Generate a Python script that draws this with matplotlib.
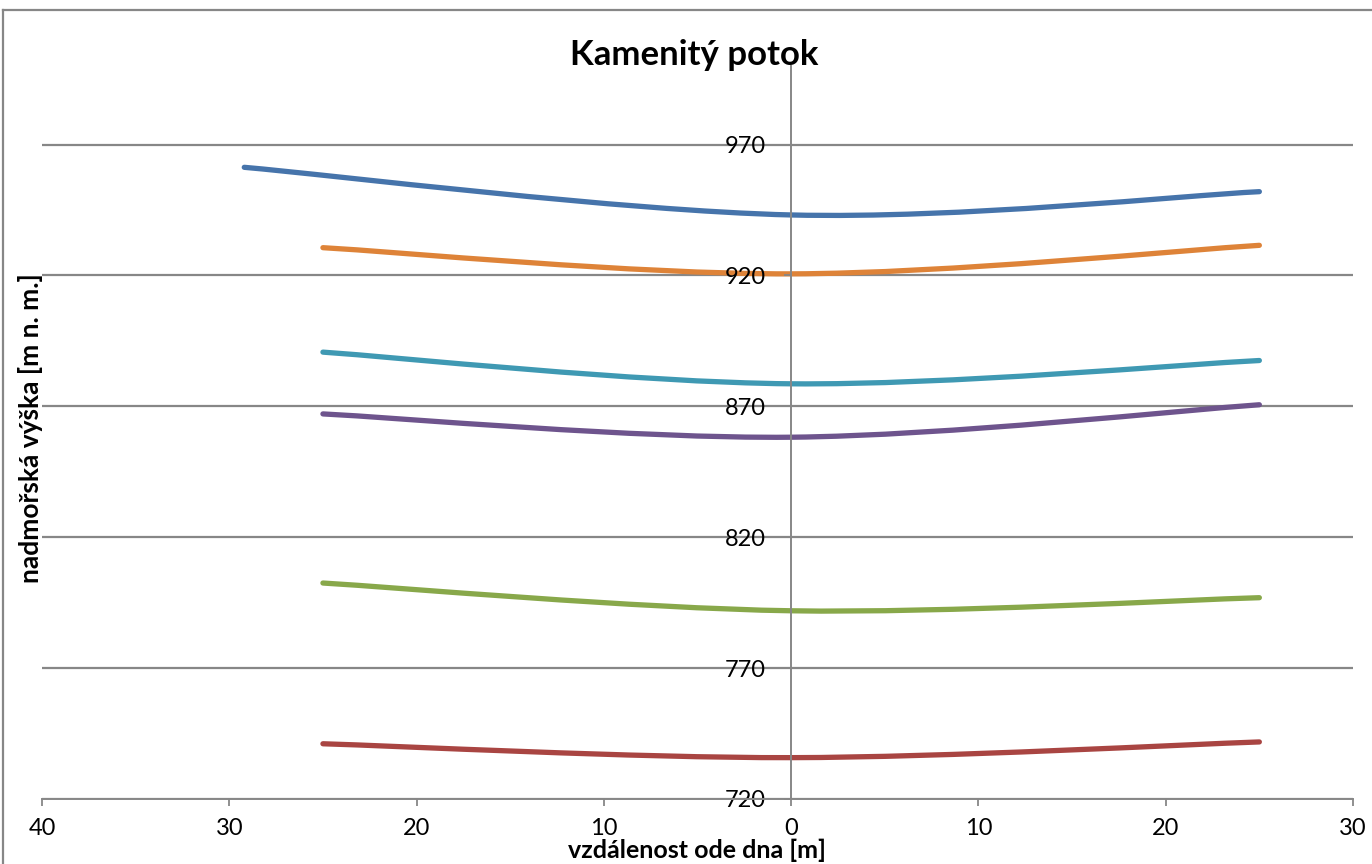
import numpy as np
import matplotlib.pyplot as plt
from matplotlib.path import Path
from matplotlib.patches import PathPatch
from matplotlib.lines import Line2D

plt.rcParams['font.family'] = ['Lato', 'DejaVu Sans']

# profile data: distance from the stream bed [m] vs elevation [m a.s.l.]
dist_top = [-29.2, 0, 25]
dist = [-25, 0, 25]
elev_blue = [961.3, 943.1, 952.0]
elev_orange = [930.6, 920.6, 931.5]
elev_teal = [890.7, 878.6, 887.5]
elev_purple = [867.1, 858.2, 870.6]
elev_green = [802.5, 791.9, 796.9]
elev_red = [741.1, 735.8, 741.8]

x_ticks = [-40, -30, -20, -10, 0, 10, 20, 30]
y_ticks = [720, 770, 820, 870, 920, 970]

series = [
    (dist_top, elev_blue, '#4674AB'),
    (dist, elev_red, '#A94542'),
    (dist, elev_green, '#88A84A'),
    (dist, elev_purple, '#6E548D'),
    (dist, elev_teal, '#3F99B3'),
    (dist, elev_orange, '#DE8338'),
]

GRAY = '#878787'


def smooth_path(x, y):
    # Excel-like smoothed line: cubic bezier through the points
    pts = np.column_stack([x, y]).astype(float)
    n = len(pts)
    verts = [pts[0]]
    codes = [Path.MOVETO]
    for i in range(n - 1):
        p0 = pts[max(i - 1, 0)]
        p1 = pts[i]
        p2 = pts[i + 1]
        p3 = pts[min(i + 2, n - 1)]
        verts += [p1 + (p2 - p0) / 6, p2 - (p3 - p1) / 6, p2]
        codes += [Path.CURVE4] * 3
    return Path(verts, codes)


fig = plt.figure(figsize=(13.72, 8.64), dpi=100)
ax = fig.add_axes([42 / 1372, 65 / 864, 1311 / 1372, 733 / 864])

for yv in y_ticks:
    ax.axhline(yv, color=GRAY, lw=1.6, zorder=0.5)

for xs, ys, col in series:
    ax.add_patch(PathPatch(smooth_path(xs, ys), facecolor='none', edgecolor=col,
                           lw=3.8, capstyle='round', joinstyle='round', zorder=1))

ax.set_xlim(-40, 30)
ax.set_ylim(720, 1000)
ax.set_xticks(x_ticks)
ax.set_xticklabels([str(abs(v)) for v in x_ticks])
ax.set_yticks(y_ticks)

ax.spines['left'].set_position(('data', 0))
ax.spines['top'].set_visible(False)
ax.spines['right'].set_visible(False)
for s in ['left', 'bottom']:
    ax.spines[s].set_color(GRAY)
    ax.spines[s].set_linewidth(1.4)

ax.tick_params(axis='both', direction='out', length=5, width=1.3, color=GRAY,
               labelsize=17, labelcolor='black')
ax.tick_params(axis='x', pad=9)
ax.tick_params(axis='y', pad=13)

fig.text(0.506, 0.936, 'Kamenitý potok', ha='center', va='center',
         fontsize=25, fontweight='bold')
fig.text(0.508, 0.016, 'vzdálenost ode dna [m]', ha='center', va='center',
         fontsize=18, fontweight='bold')
fig.text(0.022, 0.504, 'nadmořská výška [m n. m.]', ha='center', va='center',
         rotation=90, fontsize=19, fontweight='bold')

# chart area border (left and top edges visible)
fig.add_artist(Line2D([3 / 1372, 3 / 1372], [0, 1 - 10 / 864], color=GRAY, lw=1.6,
                      transform=fig.transFigure))
fig.add_artist(Line2D([3 / 1372, 1], [1 - 10 / 864, 1 - 10 / 864], color=GRAY, lw=1.6,
                      transform=fig.transFigure))

fig.savefig('out.png', dpi=100)
